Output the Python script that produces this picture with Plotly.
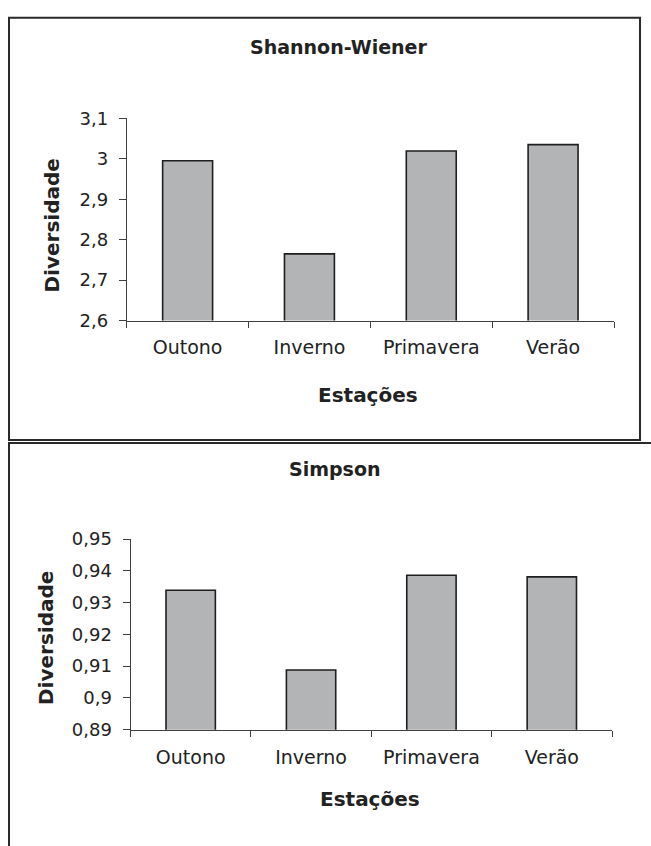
import plotly.graph_objects as go

# ---- data ----
estacoes = ["Outono", "Inverno", "Primavera", "Verão"]
shannon = [2.995, 2.765, 3.019, 3.035]
simpson = [0.9339, 0.9088, 0.9386, 0.9381]

shannon_ticks = [2.6, 2.7, 2.8, 2.9, 3.0, 3.1]
shannon_ticktext = ["2,6", "2,7", "2,8", "2,9", "3", "3,1"]
simpson_ticks = [0.89, 0.90, 0.91, 0.92, 0.93, 0.94, 0.95]
simpson_ticktext = ["0,89", "0,9", "0,91", "0,92", "0,93", "0,94", "0,95"]

titles = ["Shannon-Wiener", "Simpson"]
x_title = "Estações"
y_title = "Diversidade"

W, H = 651, 846
FONT = "DejaVu Sans"
BAR_FILL = "#b3b4b6"
BAR_LINE = "#1e1e1e"
AXIS = "#404040"
TXT = "#222222"


def px(x):
    return x / W


def py(y):
    return 1 - y / H


fig = go.Figure()

fig.add_trace(go.Bar(x=estacoes, y=shannon, xaxis="x", yaxis="y",
                     marker=dict(color=BAR_FILL, line=dict(color=BAR_LINE, width=1.6)),
                     showlegend=False))
fig.add_trace(go.Bar(x=estacoes, y=simpson, xaxis="x2", yaxis="y2",
                     marker=dict(color=BAR_FILL, line=dict(color=BAR_LINE, width=1.6)),
                     showlegend=False))

xcommon = dict(type="category", showline=True, linecolor=AXIS, linewidth=1,
               ticks="outside", tickson="boundaries", ticklen=6, tickcolor=AXIS,
               showgrid=False, zeroline=False, fixedrange=True,
               tickfont=dict(family=FONT, size=19, color=TXT),
               ticklabelstandoff=10)
ycommon = dict(showline=True, linecolor=AXIS, linewidth=1,
               ticks="outside", ticklen=7, tickcolor=AXIS,
               showgrid=False, zeroline=False, fixedrange=True,
               tickfont=dict(family=FONT, size=18, color=TXT),
               ticklabelstandoff=7)

fig.update_layout(
    width=W, height=H,
    margin=dict(l=0, r=0, t=0, b=0),
    paper_bgcolor="white", plot_bgcolor="white",
    bargap=0.59,
    xaxis=dict(domain=[px(126.7), px(614)], anchor="y", **xcommon),
    yaxis=dict(domain=[py(317.5), py(110)], anchor="x", range=[2.6, 3.1],
               tickvals=shannon_ticks, ticktext=shannon_ticktext, **ycommon),
    xaxis2=dict(domain=[px(130.5), px(612)], anchor="y2", **xcommon),
    yaxis2=dict(domain=[py(737), py(541.5)], anchor="x2", range=[0.89, 0.95],
                tickvals=simpson_ticks, ticktext=simpson_ticktext, **ycommon),
)

ann = []
ann.append(dict(text=f"<b>{titles[0]}</b>", x=px(338), y=py(37), size=19))
ann.append(dict(text=f"<b>{titles[1]}</b>", x=px(334), y=py(470), size=19))
ann.append(dict(text=f"<b>{x_title}</b>", x=px(368), y=py(394), size=20))
ann.append(dict(text=f"<b>{x_title}</b>", x=px(370), y=py(808), size=20))
ann.append(dict(text=f"<b>{y_title}</b>", x=px(52), y=py(220), size=20, angle=-90))
ann.append(dict(text=f"<b>{y_title}</b>", x=px(46), y=py(643), size=20, angle=-90))

for a in ann:
    fig.add_annotation(text=a["text"], x=a["x"], y=a["y"], xref="paper", yref="paper",
                       xanchor="center", yanchor="middle", showarrow=False,
                       textangle=a.get("angle", 0),
                       font=dict(family=FONT, size=a.get("size", 18), color=TXT))

fig.add_shape(type="rect", xref="paper", yref="paper",
              x0=px(9), x1=px(640), y0=py(440), y1=py(7),
              line=dict(color="#2a2a2a", width=2), fillcolor="rgba(0,0,0,0)")
fig.add_shape(type="rect", xref="paper", yref="paper",
              x0=px(9), x1=px(670), y0=py(870), y1=py(443),
              line=dict(color="#2a2a2a", width=2), fillcolor="rgba(0,0,0,0)")

fig.write_html(
    "out.html",
    config={"displayModeBar": False},
    post_script="document.body.style.margin='0';document.body.style.padding='0';"
                "document.documentElement.style.overflow='hidden';",
)
